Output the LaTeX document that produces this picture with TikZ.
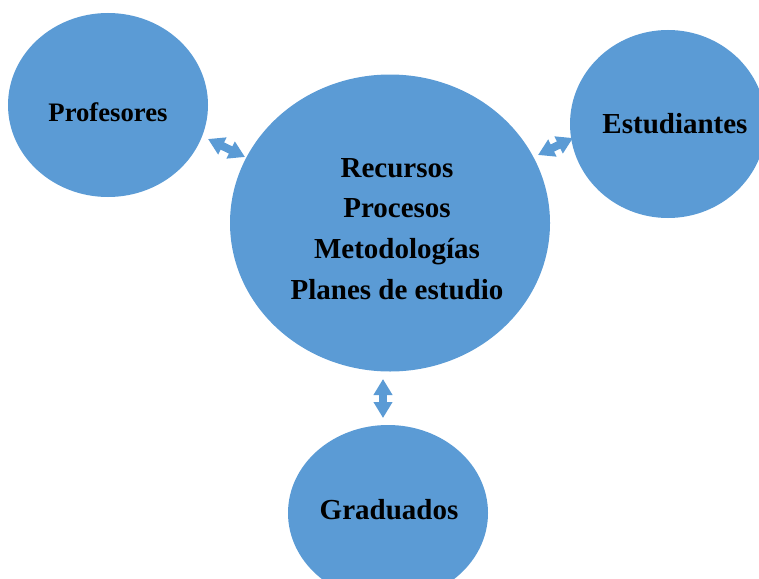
\documentclass[tikz,border=0pt]{standalone}
\usepackage{fontspec}
\setmainfont{Liberation Serif}
\usetikzlibrary{shapes.geometric,arrows.meta}
\definecolor{blob}{HTML}{5B9BD5}
\tikzset{
  circ/.style={ellipse, fill=blob, draw=none, inner sep=0pt},
  lbl/.style={font=\bfseries\fontsize{29}{34}\selectfont, inner sep=0pt},
  dblarrow/.style={draw=blob, line width=8pt,
    {Triangle[width=18pt,length=16pt]}-{Triangle[width=18pt,length=16pt]}}
}
\begin{document}
\begin{tikzpicture}[x=1pt,y=-1pt]
\useasboundingbox (0,0) rectangle (759,578);
\node[circ, minimum width=200pt, minimum height=184pt] (prof) at (108,105) {};
\node[lbl, font=\bfseries\fontsize{26.7}{32}\selectfont] (proft) at (108,112) {Profesores};
\node[circ, minimum width=320pt, minimum height=297pt] (cen) at (390,223) {};
\node[lbl, align=center, font=\bfseries\fontsize{29}{40.7}\selectfont] (cent) at (397,229) {Recursos\\Procesos\\Metodologías\\Planes de estudio};
\node[circ, minimum width=196pt, minimum height=188pt] (est) at (668,124) {};
\node[lbl] (estt) at (675,124) {Estudiantes};
\node[circ, minimum width=200pt, minimum height=176pt] (grad) at (388,513) {};
\node[lbl] (gradt) at (389,510) {Graduados};
\coordinate (a1) at (208,139);
\coordinate (a2) at (245,157);
\coordinate (b1) at (538,155);
\coordinate (b2) at (573,138);
\coordinate (c1) at (383,379);
\coordinate (c2) at (383,418);
\draw[dblarrow] (a1) -- (a2);
\draw[dblarrow] (b1) -- (b2);
\draw[dblarrow] (c1) -- (c2);
\end{tikzpicture}
\end{document}
